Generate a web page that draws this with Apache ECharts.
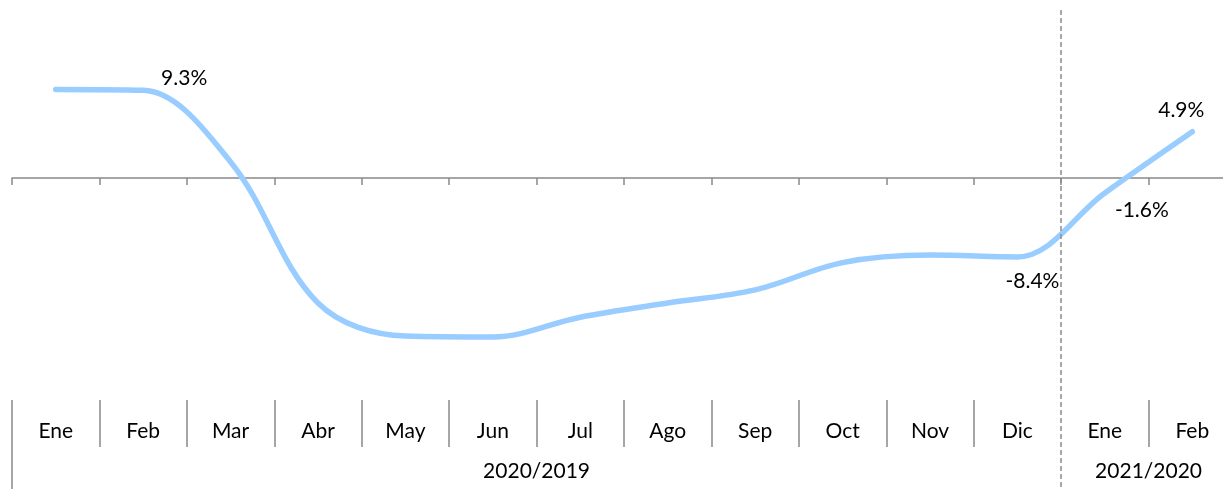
<!DOCTYPE html>
<html>
<head>
<meta charset="utf-8">
<script src="https://cdn.jsdelivr.net/npm/echarts@6/dist/echarts.min.js"></script>
<style>
  html, body { margin: 0; padding: 0; background: #ffffff; }
  #chart { width: 1223px; height: 489px; }
</style>
</head>
<body>
<div id="chart"></div>
<script>
// meses (dos niveles: mes / periodo)
const months = ['Ene', 'Feb', 'Mar', 'Abr', 'May', 'Jun', 'Jul', 'Ago', 'Sep', 'Oct', 'Nov', 'Dic', 'Ene', 'Feb']
const groups = ['2020/2019', '2021/2020']
const groupSpans = [12, 2]

// variacion interanual (%)
const yoy = [9.4, 9.3, 1.7, -13.3, -16.8, -16.9, -14.8, -13.3, -11.9, -9.0, -8.2, -8.4, -1.6, 4.9]

// puntos con etiqueta
const labeled = [1, 11, 12, 13]

const FONT = 'Lato'
const AXIS_GREY = '#898989'
const BOX_GREY = '#a6a6a6'

// desplazamiento de cada etiqueta respecto al punto
const labelOffsets = { 1: [41, -1], 11: [15, 35], 12: [37, 28], 13: [-11, -11] }

// posiciones de los limites entre grupos (0, 12, 14) y etiqueta centrada
const slots = new Array(months.length + 1).fill('')
const groupBounds = [0]
let start = 0
groups.forEach((g, i) => {
  slots[start + groupSpans[i] / 2] = g
  start += groupSpans[i]
  groupBounds.push(start)
})

const chart = echarts.init(document.getElementById('chart'))

const gridBase = { left: 12, width: 1224, outerBoundsMode: 'none', containLabel: false }

const option = {
  animation: false,
  backgroundColor: '#ffffff',
  grid: [
    { ...gridBase, top: 0, height: 400 },
    { ...gridBase, top: 400, height: 47 },
    { ...gridBase, top: 447, height: 42 },
    { ...gridBase, top: 10, height: 479 }
  ],
  xAxis: [
    {
      gridIndex: 0,
      type: 'category',
      data: months,
      boundaryGap: true,
      axisLine: { onZero: true, lineStyle: { color: AXIS_GREY, width: 1.5 } },
      axisTick: { show: true, interval: 0, length: 7, lineStyle: { color: AXIS_GREY, width: 1.5 } },
      axisLabel: { show: false },
      splitLine: { show: false }
    },
    {
      gridIndex: 1,
      type: 'category',
      data: months,
      boundaryGap: true,
      axisLine: { show: false },
      axisTick: { show: false },
      axisLabel: { inside: true, margin: 5, interval: 0, fontFamily: FONT, fontSize: 21, color: '#000' },
      splitLine: {
        show: true,
        interval: (i) => i !== groupBounds[1],
        lineStyle: { color: BOX_GREY, width: 2 }
      }
    },
    {
      gridIndex: 2,
      type: 'category',
      data: slots,
      boundaryGap: false,
      axisLine: { show: false },
      axisTick: { show: false },
      axisLabel: {
        inside: true,
        margin: 7,
        interval: (i, v) => v !== '',
        fontFamily: FONT,
        fontSize: 21,
        color: '#000'
      },
      splitLine: {
        show: true,
        interval: (i) => i === 0 || i === groupBounds[groupBounds.length - 1],
        lineStyle: { color: BOX_GREY, width: 2 }
      }
    },
    {
      gridIndex: 3,
      type: 'category',
      data: slots.map(() => ''),
      boundaryGap: false,
      z: 5,
      axisLine: { show: false },
      axisTick: { show: false },
      axisLabel: { show: false },
      splitLine: {
        show: true,
        interval: (i) => i === groupBounds[1],
        lineStyle: { color: '#8c8c8c', width: 1.5, type: [5, 3] }
      }
    }
  ],
  yAxis: [
    { gridIndex: 0, type: 'value', min: -23.6, max: 18.9, show: false },
    { gridIndex: 1, type: 'value', show: false },
    { gridIndex: 2, type: 'value', show: false },
    { gridIndex: 3, type: 'value', show: false }
  ],
  series: [
    {
      type: 'line',
      xAxisIndex: 0,
      yAxisIndex: 0,
      smooth: 0.35,
      symbol: 'circle',
      symbolSize: 1,
      showSymbol: true,
      lineStyle: { color: '#99ccff', width: 5.5, cap: 'round' },
      itemStyle: { color: '#99ccff' },
      emphasis: { disabled: true },
      label: {
        show: false,
        position: 'top',
        distance: 0,
        fontFamily: FONT,
        fontSize: 21,
        color: '#000',
        formatter: (p) => p.value.toFixed(1) + '%'
      },
      data: yoy.map((v, i) => labeled.includes(i)
        ? { value: v, label: { show: true, offset: labelOffsets[i] } }
        : v)
    }
  ]
}

chart.setOption(option)
window.addEventListener('resize', () => chart.resize())
</script>
</body>
</html>
